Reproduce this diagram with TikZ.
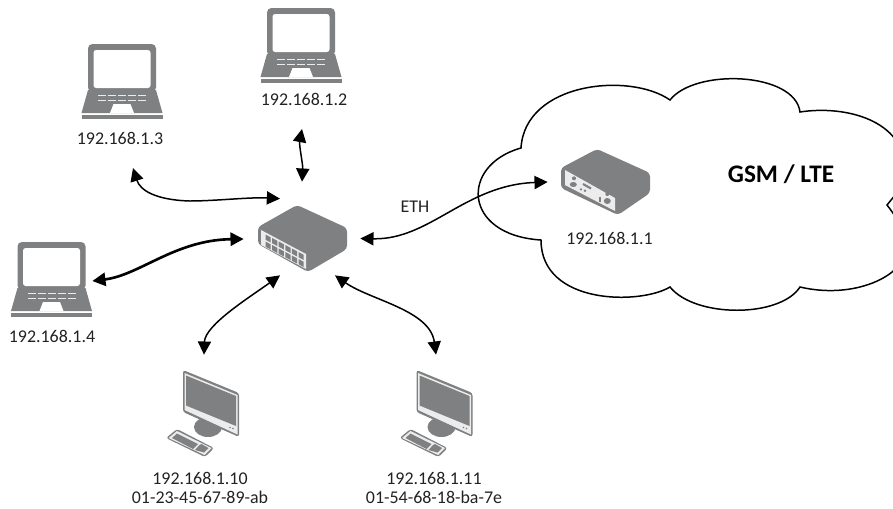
\documentclass[tikz,border=0pt]{standalone}
\usepackage{fontspec}
\setmainfont{Carlito}
\usetikzlibrary{arrows.meta}
\definecolor{devgray}{HTML}{7F8081}
\definecolor{devlight}{HTML}{ECECEC}
\definecolor{txtdark}{HTML}{222222}
\tikzset{
    link/.style={line width=0.85pt, {Triangle[length=7.5pt,width=7.5pt]}-{Triangle[length=7.5pt,width=7.5pt]}},
    iplabel/.style={inner sep=0pt, text=txtdark, font=\fontsize{10.2}{11}\selectfont, align=center},
    devbox/.style={inner sep=0pt, minimum width=#1},
    laptopicon/.pic={
        % Lid, screen and base
        \fill[devgray, rounded corners=2.5pt] (-34,0) rectangle (34,48);
        \fill[white, rounded corners=1.5pt] (-28.5,6) rectangle (28.5,44);
        \fill[devgray] (-34,46) -- (-40.5,69) -- (40.5,69) -- (34,46) -- cycle;
        % Keys and touchpad
        \foreach \kx in {-24,-14,-4,6,16} {
            \fill[devlight] (\kx,50.5) rectangle ++(8,1.5);
            \fill[devlight] (\kx,55.5) rectangle ++(8,1.5);
        }
        \fill[white] (-12,69) -- (-8.5,60) -- (8.5,60) -- (12,69) -- cycle;
        \fill[devgray] (-40.5,70.5) rectangle (40.5,75);
    },
    desktopicon/.pic={
        % Stand
        \fill[devgray] (25,57) ellipse (14 and 10);
        % Monitor
        \fill[devgray, rounded corners=1.5pt] (0,0) -- (56,23) -- (56,67) -- (0,42) -- cycle;
        \fill[devlight] (1.5,3) -- (54.5,25) -- (54.5,64.5) -- (1.5,40) -- cycle;
        \fill[devgray] (3,5.5) -- (53,26) -- (53,56) -- (3,35.5) -- cycle;
        \fill[devgray] (47,57.5) circle (0.8);
        \fill[devgray] (50,58.5) circle (0.8);
        % Keyboard
        \fill[devgray, rounded corners=1.5pt] (-17,68) -- (-6,59) -- (31,78) -- (22,87) -- cycle;
        \fill[devlight] (-14.5,68) -- (-6,61) -- (28.5,78) -- (21.5,85) -- cycle;
        \fill[devgray] (-11,68) -- (-6,63.5) -- (15,74) -- (10,79) -- cycle;
        \fill[devgray] (16.5,75) -- (18.5,74) -- (25.5,78) -- (21,82.5) -- (12,80) -- cycle;
    }
}
\begin{document}
\begin{tikzpicture}[x=0.02cm, y=-0.02cm]
    \useasboundingbox (0,0) rectangle (893,508);
    \clip (0,0) rectangle (893,508);

    % Cloud
    \draw[line width=0.85pt] (670,100) .. controls (695,68) and (795,72) .. (800,112)
        .. controls (845,105) and (905,120) .. (905,170)
        .. controls (905,185) and (895,195) .. (887,205)
        .. controls (895,215) and (905,230) .. (905,250)
        .. controls (905,275) and (855,300) .. (800,287)
        .. controls (780,318) and (695,318) .. (670,287)
        .. controls (640,305) and (541,305) .. (541,240)
        .. controls (462,235) and (460,165) .. (521,148)
        .. controls (525,82) and (630,72) .. (670,100) -- cycle;
    \node[font=\fontsize{14.4}{16}\bfseries\selectfont, inner sep=0pt] (gsm) at (781,174) {GSM / LTE};

    % Laptops
    \path (301,8) pic {laptopicon};
    \path (122,44) pic {laptopicon};
    \path (51.5,242) pic {laptopicon};
    \node[devbox=1.62cm, minimum height=1.5cm] (lapB) at (301,45.5) {};
    \node[devbox=1.62cm, minimum height=1.5cm] (lapC) at (122,81.5) {};
    \node[devbox=1.62cm, minimum height=1.5cm] (lapD) at (51.5,279.5) {};
    \node[iplabel] (ipB) at (304,99) {192.168.1.2};
    \node[iplabel] (ipC) at (120,138) {192.168.1.3};
    \node[iplabel] (ipD) at (52,336) {192.168.1.4};

    % Desktops
    \path (183,370) pic {desktopicon};
    \path (416.5,370) pic {desktopicon};
    \node[devbox=1.46cm, minimum height=1.66cm] (pcE) at (201.5,411.5) {};
    \node[devbox=1.46cm, minimum height=1.66cm] (pcF) at (435,411.5) {};
    \node[iplabel] (ipE) at (200,488) {192.168.1.10\\01-23-45-67-89-ab};
    \node[iplabel] (ipF) at (434,488) {192.168.1.11\\01-54-68-18-ba-7e};

    % Switch
    \fill[devgray, rounded corners=2pt] (297,205) -- (347,228) -- (347,249) -- (308,272) -- (258,244) -- (258,227) -- cycle;
    \fill[devlight] (261,230) -- (306,254) -- (306,269) -- (261,245) -- cycle;
    \foreach \px in {0,1,2,3,4,5} {
        \fill[devgray] (265.5+6.6*\px,234.5+3.5*\px) -- ++(5.2,2.8) -- ++(0,5.2) -- ++(-5.2,-2.8) -- cycle;
        \fill[devgray] (265.5+6.6*\px,241.5+3.5*\px) -- ++(5.2,2.8) -- ++(0,5.2) -- ++(-5.2,-2.8) -- cycle;
    }
    \node[devbox=1.78cm, minimum height=1.34cm] (sw) at (302.5,238.5) {};

    % Router
    \fill[devgray, rounded corners=2pt] (597,149) -- (650,173) -- (650,193) -- (618,215) -- (561,188) -- (561,168) -- cycle;
    \fill[devlight] (565,170) -- (615,198) -- (615,211) -- (565,185) -- cycle;
    \fill[devgray] (574,178.3) circle (2);
    \fill[devgray] (573.3,184.5) ellipse (3.5 and 2.5);
    \fill[devgray] (607.3,194) circle (2);
    \fill[devgray] (607.3,201) ellipse (3.5 and 3);
    \draw[devgray, line width=1.2pt] (583,184) -- (591,188.5);
    \fill[devgray] (581,189.3) circle (1.3);
    \fill[devgray] (585,190.7) circle (1.3);
    \draw[devgray, line width=0.6pt] (600,197) -- (600,202);
    \node[devbox=1.78cm, minimum height=1.32cm] (rtr) at (605.5,182) {};
    \node[iplabel] (ipA) at (609.5,238) {192.168.1.1};

    % Connections
    \draw[link] ([shift={(-2,30)}]ipB.center) .. controls (299,145) and (303,165) .. ([shift={(-0.5,-23)}]sw.north);
    \draw[link] ([shift={(13,30)}]ipC.center) .. controls (140,190) and (155,200) .. (190,201)
        .. controls (215,201) and (250,197) .. ([shift={(-22.5,-6)}]sw.north);
    \draw[link, line width=1.5pt] ([shift={(0,1.5)}]lapD.east) .. controls (140,275) and (175,240) .. ([shift={(-14,0.5)}]sw.west);
    \draw[link] ([shift={(-22.5,3)}]sw.south) .. controls (250,297) and (205,325) .. ([shift={(2.5,-15)}]pcE.north);
    \draw[link] ([shift={(32.5,3)}]sw.south) .. controls (370,300) and (430,310) .. ([shift={(1,-15)}]pcF.north);
    \draw[link] ([shift={(13,0)}]sw.east) .. controls (430,240) and (465,185) .. ([shift={(-13,0)}]rtr.west);
    \node[iplabel] (eth) at (415,207) {ETH};
\end{tikzpicture}
\end{document}
